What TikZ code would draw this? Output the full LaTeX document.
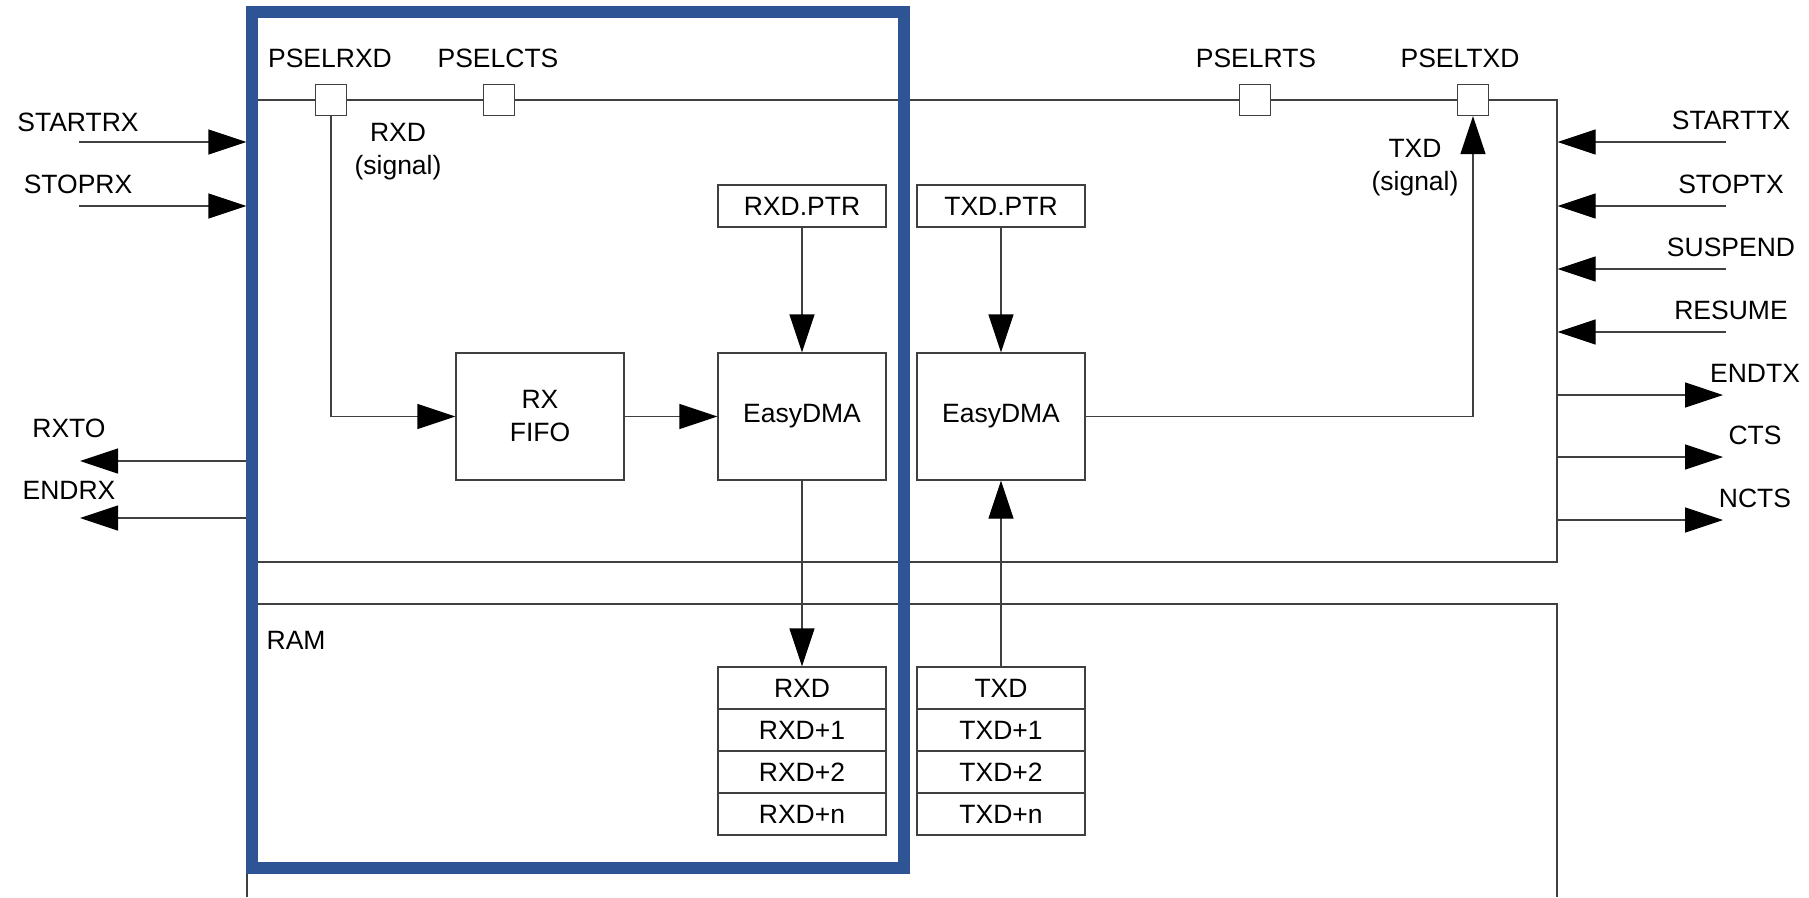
\documentclass[tikz,border=0pt]{standalone}
\usepackage{fontspec}
\setmainfont{Liberation Sans}
\usetikzlibrary{arrows.meta}

\definecolor{nordicblue}{HTML}{2F5496}

\begin{document}
\begin{tikzpicture}[x=1pt,y=-1pt,
    font=\fontsize{26.5}{33}\selectfont,
    line width=1.3pt,
    box/.style={draw=black!75,fill=white,inner sep=0pt,align=center,minimum width=168pt},
    pin/.style={draw=black!75,fill=white,inner sep=0pt,minimum size=31pt},
    sig/.style={draw=black!75,-{Triangle[length=38pt,width=25pt,color=black]}},
    lbl/.style={inner sep=0pt,align=center}]
  \useasboundingbox (0,0) rectangle (1809,897);
  \node[draw=black!75,inner sep=0pt,minimum width=1310pt,minimum height=462pt] (uarte) at (902,331) {};
  \draw[black!75] (247,897) |- (1557,604) -- (1557,897);
  \node[lbl,anchor=west] (ram) at (266,640) {RAM};
  \foreach \n/\x/\lx/\t in {prxd/331/330/PSELRXD, pcts/499/498/PSELCTS, prts/1255/1256/PSELRTS, ptxd/1473/1460/PSELTXD} {
    \node[pin] (\n) at (\x,100) {};
    \node[lbl] (l\n) at (\lx,58) {\t};
  }
  \node[box,minimum height=42pt] (rptr) at (802,206) {RXD.PTR};
  \node[box,minimum height=42pt] (tptr) at (1001,206) {TXD.PTR};
  \node[box,minimum height=127pt] (fifo) at (540,416.5) {RX\\FIFO};
  \node[box,minimum height=127pt] (rdma) at (802,416.5) {EasyDMA};
  \node[box,minimum height=127pt] (tdma) at (1001,416.5) {EasyDMA};
  \foreach \s [count=\i] in {{},+1,+2,+n} {
    \node[box,minimum height=42pt] (rxd\i) at (802,646+42*\i) {RXD\s};
    \node[box,minimum height=42pt] (txd\i) at (1001,646+42*\i) {TXD\s};
  }
  \node[lbl] (rxsig) at (398,151.5) {RXD\\(signal)};
  \node[lbl] (txsig) at (1415,168) {TXD\\(signal)};
  \draw[sig] (prxd.south) |- (fifo.west);
  \draw[sig] (fifo) -- (rdma);
  \draw[sig] (rptr) -- (rdma);
  \draw[sig] (tptr) -- (tdma);
  \draw[sig] (rdma) -- (rxd1);
  \draw[sig] (txd1) -- (tdma);
  \draw[sig] (tdma.east) -| (ptxd.south);
  \foreach \t/\y/\d in {STARTRX/142/20, STOPRX/206/22} {
    \coordinate (a\t) at (79,\y);
    \node[lbl] (\t) at (78,\y-\d) {\t};
    \draw[sig] (a\t) -- (a\t -| uarte.west);
  }
  \foreach \t/\y/\d in {RXTO/461/33, ENDRX/518/28} {
    \coordinate (a\t) at (80,\y);
    \node[lbl] (\t) at (69,\y-\d) {\t};
    \draw[sig] (a\t -| uarte.west) -- (a\t);
  }
  \foreach \t/\y in {STARTTX/142, STOPTX/206, SUSPEND/269, RESUME/332} {
    \coordinate (a\t) at (1726,\y);
    \node[lbl] (\t) at (1731,\y-22) {\t};
    \draw[sig] (a\t) -- (a\t -| uarte.east);
  }
  \foreach \t/\y in {ENDTX/395, CTS/457, NCTS/520} {
    \coordinate (a\t) at (1723,\y);
    \node[lbl] (\t) at (1755,\y-22) {\t};
    \draw[sig] (a\t -| uarte.east) -- (a\t);
  }
  \draw[nordicblue,line width=12pt] (252,11.5) rectangle (904,867.5);
\end{tikzpicture}
\end{document}
